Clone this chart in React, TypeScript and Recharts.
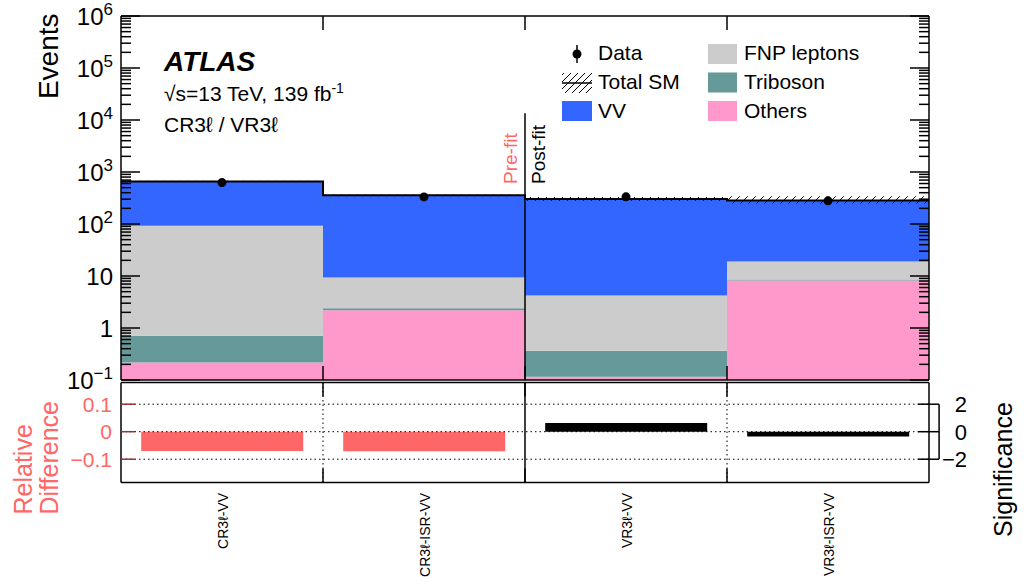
import React from 'react';
import { ComposedChart, Area, Line, Scatter, Bar, XAxis, YAxis, ReferenceLine } from 'recharts';

// ---------- data ----------
const bins = ['CR3ℓ-VV', 'CR3ℓ-ISR-VV', 'VR3ℓ-VV', 'VR3ℓ-ISR-VV'];
const binEdges = [0, 1, 2, 3, 4];
const others = [0.216, 2.2, 0.116, 8.2];
const triboson = [0.494, 0.2, 0.251, 0.4];
const fnp = [92.0, 7.0, 3.83, 10.5];
const vv = [567, 349, 298, 265];
const dataObs = [625, 332, 333, 279];
const uncLow = [0.97, 0.97, 0.93, 0.87];
const uncHigh = [1.03, 1.03, 1.09, 1.2];
const relDiff = [-0.07, -0.071, null, null];
const significance = [null, null, 0.64, -0.34];
const relTicks = [-0.1, 0, 0.1];
const sigTicks = [-2, 0, 2];
const binTicks = [1, 2, 3];
const labelTicks = [0.5, 1, 1.5, 2, 2.5, 3, 3.5];
const logTicks: number[] = [];
for (let d = -1; d <= 5; d++) for (let k = 1; k <= 9; k++) logTicks.push(k * Math.pow(10, d));
logTicks.push(1e6);

const FONT = "'Liberation Sans', Arial, Helvetica, sans-serif";
const SALMON = '#ff6666';
const C_VV = '#3366ff';
const C_FNP = '#cccccc';
const C_TRI = '#669999';
const C_OTH = '#ff99cc';

const stackRows = binEdges.map((e) => {
  const i = Math.min(e, bins.length - 1);
  const o = others[i];
  const t = o + triboson[i];
  const f = t + fnp[i];
  const tot = f + vv[i];
  return { x: e, others: o, trib: [o, t], fnp: [t, f], vv: [f, tot], total: tot, unc: [tot * uncLow[i], tot * uncHigh[i]] };
});
const dataPoints = bins.map((b, i) => ({ x: i + 0.5, y: dataObs[i] }));
const ratioRows = bins.map((name, i) => ({ name, x: i, rel: relDiff[i], sig: significance[i] }));

const isMajor = (v: number) => Math.abs(Math.log10(v) - Math.round(Math.log10(v))) < 1e-6;

// ---------- ROOT-style inward ticks ----------
const LeftLogTick = (props: any) => {
  const x = Number(props.x);
  const y = Number(props.y);
  const v = props.payload.value;
  const maj = isMajor(v);
  const e = Math.round(Math.log10(v));
  let label: any = null;
  if (maj) {
    if (e === 0) label = '1';
    else if (e === 1) label = '10';
    else label = (<>10<tspan dy={-10} fontSize={17}>{e < 0 ? '−' + Math.abs(e) : String(e)}</tspan></>);
  }
  return (
    <g>
      <path d={`M${x},${y}h${maj ? 19 : 10}`} stroke="#000" strokeWidth={1.5} fill="none" />
      {maj && <text x={x - 8} y={y + 8.5} textAnchor="end" fontSize={24} fontFamily={FONT} fill="#000">{label}</text>}
    </g>
  );
};
const RightLogTick = (props: any) => {
  const x = Number(props.x);
  const y = Number(props.y);
  const maj = isMajor(props.payload.value);
  return <path d={`M${x},${y}h${maj ? -19 : -10}`} stroke="#000" strokeWidth={1.5} fill="none" />;
};
const UpTick = (props: any) => <path d={`M${Number(props.x)},${Number(props.y)}v-14`} stroke="#000" strokeWidth={1.5} fill="none" />;
const DownTick = (props: any) => <path d={`M${Number(props.x)},${Number(props.y)}v14`} stroke="#000" strokeWidth={1.5} fill="none" />;

const RelTick = (props: any) => {
  const x = Number(props.x);
  const y = Number(props.y);
  const v = props.payload.value;
  const txt = v === 0 ? '0' : v < 0 ? '−' + Math.abs(v) : String(v);
  return (
    <g>
      <path d={`M${x},${y}h14`} stroke="#993333" strokeWidth={1.5} fill="none" />
      <text x={x - 9} y={y + 7.5} textAnchor="end" fontSize={21} fontFamily={FONT} fill={SALMON}>{txt}</text>
    </g>
  );
};
const SigTick = (props: any) => {
  const x = Number(props.x);
  const y = Number(props.y);
  const v = props.payload.value;
  const txt = v === 0 ? '0' : v < 0 ? '−' + Math.abs(v) : String(v);
  return (
    <g>
      <path d={`M${x - 11},${y}h21`} stroke="#000" strokeWidth={1.5} fill="none" />
      <text x={x + 38} y={y + 8} textAnchor="end" fontSize={22} fontFamily={FONT} fill="#000">{txt}</text>
    </g>
  );
};
const RatioBottomTick = (props: any) => {
  const x = Number(props.x);
  const y = Number(props.y);
  const v = props.payload.value;
  if (Number.isInteger(v)) {
    return <path d={`M${x},${y}v-14`} stroke="#000" strokeWidth={1.5} fill="none" />;
  }
  return (
    <text transform={`translate(${x + 6},${y + 10.5}) rotate(-90)`} textAnchor="end" fontSize={14} fontFamily={FONT} fill="#000">
      {bins[Math.floor(v)]}
    </text>
  );
};

const frame = { stroke: '#000', strokeWidth: 1.5 };
const Dot = (props: any) => <circle cx={props.cx} cy={props.cy} r={4.5} fill="#000" />;

export default function App() {
  return (
    <div style={{ position: 'absolute', left: 0, top: 0, width: 1030, height: 582, background: '#fff', fontFamily: FONT }}>
      {/* top panel */}
      <div style={{ position: 'absolute', left: 0, top: 0 }}>
        <ComposedChart width={1030} height={582} data={stackRows} margin={{ top: 15, right: 100, bottom: 201, left: 120 }}>
          <defs>
            <pattern id="hatchTop" patternUnits="userSpaceOnUse" width={8} height={8}>
              <path d="M0,8 L8,0 M-2,2 L2,-2 M6,10 L10,6" stroke="#000" strokeWidth={1} />
            </pattern>
          </defs>
          <XAxis xAxisId="b" dataKey="x" type="number" domain={[0, 4]} ticks={binTicks} interval={0} height={1} tickSize={0} tickMargin={0} tickLine={false} axisLine={frame} tick={<UpTick />} allowDataOverflow />
          <XAxis xAxisId="t" orientation="top" dataKey="x" type="number" domain={[0, 4]} ticks={binTicks} interval={0} height={1} tickSize={0} tickMargin={0} tickLine={false} axisLine={frame} tick={<DownTick />} allowDataOverflow />
          <YAxis yAxisId="l" dataKey="y" type="number" scale="log" domain={[0.1, 1e6]} allowDataOverflow ticks={logTicks} interval={0} width={1} tickSize={0} tickMargin={0} tickLine={false} axisLine={frame} tick={<LeftLogTick />} />
          <YAxis yAxisId="r" orientation="right" type="number" scale="log" domain={[0.1, 1e6]} allowDataOverflow ticks={logTicks} interval={0} width={1} tickSize={0} tickMargin={0} tickLine={false} axisLine={frame} tick={<RightLogTick />} />
          <Area xAxisId="b" yAxisId="l" type="stepAfter" dataKey="others" baseValue="dataMin" fill={C_OTH} fillOpacity={1} stroke="none" isAnimationActive={false} />
          <Area xAxisId="b" yAxisId="l" type="stepAfter" dataKey="trib" fill={C_TRI} fillOpacity={1} stroke="none" isAnimationActive={false} />
          <Area xAxisId="b" yAxisId="l" type="stepAfter" dataKey="fnp" fill={C_FNP} fillOpacity={1} stroke="none" isAnimationActive={false} />
          <Area xAxisId="b" yAxisId="l" type="stepAfter" dataKey="vv" fill={C_VV} fillOpacity={1} stroke="none" isAnimationActive={false} />
          <Area xAxisId="b" yAxisId="l" type="stepAfter" dataKey="unc" fill="url(#hatchTop)" fillOpacity={1} stroke="none" isAnimationActive={false} />
          <Line xAxisId="b" yAxisId="l" type="stepAfter" dataKey="total" stroke="#000" strokeWidth={2} dot={false} isAnimationActive={false} />
          <ReferenceLine xAxisId="b" yAxisId="l" segment={[{ x: 2, y: 1.35e4 }, { x: 2, y: 0.1 }]} stroke="#000" strokeWidth={1.5} />
          <Scatter xAxisId="b" yAxisId="l" data={dataPoints} dataKey="y" shape={<Dot />} isAnimationActive={false} />
        </ComposedChart>
      </div>

      {/* bottom panel */}
      <div style={{ position: 'absolute', left: 0, top: 0 }}>
        <ComposedChart width={1030} height={582} data={ratioRows} margin={{ top: 381.5, right: 100, bottom: 98.5, left: 120 }} barCategoryGap="10%">
          <XAxis xAxisId="rd" dataKey="name" type="category" hide />
          <XAxis xAxisId="sg" dataKey="name" type="category" hide />
          <XAxis xAxisId="num" dataKey="x" type="number" domain={[0, 4]} ticks={labelTicks} interval={0} height={1} tickSize={0} tickMargin={0} tickLine={false} axisLine={frame} tick={<RatioBottomTick />} allowDataOverflow />
          <XAxis xAxisId="numt" dataKey="x" orientation="top" type="number" domain={[0, 4]} ticks={binTicks} interval={0} height={1} tickSize={0} tickMargin={0} tickLine={false} axisLine={frame} tick={<DownTick />} allowDataOverflow />
          <YAxis yAxisId="l" type="number" domain={[-0.1847, 0.1789]} allowDataOverflow ticks={relTicks} interval={0} width={1} tickSize={0} tickMargin={0} tickLine={false} axisLine={frame} tick={<RelTick />} />
          <YAxis yAxisId="r" orientation="right" type="number" domain={[-3.694, 3.578]} allowDataOverflow ticks={sigTicks} interval={0} width={1} tickSize={0} tickMargin={0} tickLine={false} axisLine={frame} tick={<SigTick />} />
          {relTicks.map((t) => (
            <ReferenceLine key={'h' + t} xAxisId="num" yAxisId="l" y={t} stroke="#000" strokeWidth={1} strokeDasharray="1.5 3" />
          ))}
          <ReferenceLine xAxisId="num" yAxisId="l" x={1} stroke="#000" strokeWidth={1} strokeDasharray="1.5 3" />
          <ReferenceLine xAxisId="num" yAxisId="l" x={3} stroke="#000" strokeWidth={1} strokeDasharray="1.5 3" />
          <ReferenceLine xAxisId="num" yAxisId="l" x={2} stroke="#000" strokeWidth={1.5} />
          <ReferenceLine xAxisId="num" yAxisId="r" segment={[{ x: 4.05, y: 2 }, { x: 4.05, y: -2 }]} stroke="#000" strokeWidth={1.5} ifOverflow="visible" />
          <Bar xAxisId="rd" yAxisId="l" dataKey="rel" fill={SALMON} isAnimationActive={false} />
          <Bar xAxisId="sg" yAxisId="r" dataKey="sig" fill="#000" isAnimationActive={false} />
        </ComposedChart>
      </div>

      {/* annotations */}
      <svg width={1030} height={582} style={{ position: 'absolute', left: 0, top: 0, pointerEvents: 'none' }} fontFamily={FONT}>
        <defs>
          <pattern id="hatchLeg" patternUnits="userSpaceOnUse" width={7} height={7}>
            <path d="M0,7 L7,0 M-2,2 L2,-2 M5,9 L9,5" stroke="#000" strokeWidth={1} />
          </pattern>
        </defs>
        <text x={164} y={71} fontSize={28} fontWeight="bold" fontStyle="italic">ATLAS</text>
        <text x={164} y={100.5} fontSize={21}>√s=13 TeV, 139 fb<tspan dy={-8} fontSize={14}>-1</tspan></text>
        <text x={164} y={132} fontSize={21}>CR3ℓ / VR3ℓ</text>

        <line x1={577} x2={577} y1={45} y2={63} stroke="#000" strokeWidth={1.5} />
        <circle cx={577} cy={54} r={4.5} fill="#000" />
        <text x={598} y={60} fontSize={21}>Data</text>
        <rect x={562} y={73} width={30} height={20} fill="url(#hatchLeg)" />
        <line x1={562} x2={592} y1={83} y2={83} stroke="#000" strokeWidth={1.5} />
        <text x={598} y={89} fontSize={21}>Total SM</text>
        <rect x={562} y={101} width={30} height={20} fill={C_VV} />
        <text x={598} y={118} fontSize={21}>VV</text>
        <rect x={708} y={44} width={29} height={20} fill={C_FNP} />
        <text x={744} y={60} fontSize={21}>FNP leptons</text>
        <rect x={708} y={72.5} width={29} height={20} fill={C_TRI} />
        <text x={744} y={89} fontSize={21}>Triboson</text>
        <rect x={708} y={101} width={29} height={20} fill={C_OTH} />
        <text x={744} y={118} fontSize={21}>Others</text>

        <text transform="translate(517,184) rotate(-90)" fontSize={19} fill={SALMON}>Pre-fit</text>
        <text transform="translate(545,184) rotate(-90)" fontSize={19} fill="#000">Post-fit</text>

        <text transform="translate(57.5,13.5) rotate(-90)" textAnchor="end" fontSize={28}>Events</text>
        <text transform="translate(32,514.5) rotate(-90)" fontSize={25} fill={SALMON}>Relative</text>
        <text transform="translate(57.5,514.5) rotate(-90)" fontSize={25} fill={SALMON}>Difference</text>
        <text transform="translate(1012,537) rotate(-90)" fontSize={25}>Significance</text>
      </svg>
    </div>
  );
}
